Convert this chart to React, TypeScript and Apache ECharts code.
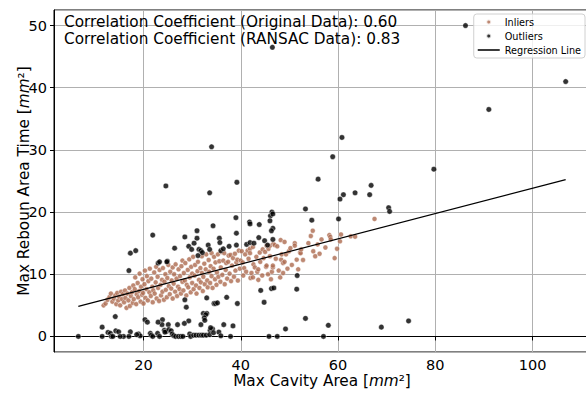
import React, { useEffect, useRef } from 'react';
import * as echarts from 'echarts';

const inliers: number[][] = [
  [11.8,5.0],[12.2,5.3],[12.6,5.9],[13.0,6.3],[13.3,6.9],[13.6,5.6],[13.9,6.1],[14.2,6.6],
  [14.4,5.2],[14.6,7.0],[14.8,5.8],[15.0,6.4],[15.2,5.0],[15.4,7.2],[15.6,6.0],[15.8,6.8],[16.0,5.5],
  [16.2,7.4],[16.3,6.2],[16.5,4.6],[16.7,6.9],[16.9,5.8],[17.1,7.8],[17.2,4.9],[17.4,6.5],[17.6,7.1],[17.8,5.4],[17.9,8.2],[18.0,6.0],
  [18.2,7.6],[18.3,9.5],[18.5,5.2],[18.6,6.8],[18.8,8.6],[18.9,6.3],[19.1,7.3],[19.2,10.1],[19.4,5.6],[19.5,8.0],[19.7,6.7],[19.8,9.2],[19.9,7.0],[20.0,5.3],
  [20.2,8.4],[20.3,10.6],[20.4,6.2],[20.6,7.6],[20.7,9.7],[20.9,5.8],[21.0,8.9],[21.2,7.1],[21.3,10.9],[21.5,6.5],[21.6,9.3],[21.8,8.0],[21.9,5.5],[22.0,7.4],
  [22.2,10.3],[22.3,6.9],[22.5,8.7],[22.6,11.2],[22.7,6.1],[22.9,9.6],[23.0,7.8],[23.2,5.7],[23.3,10.7],[23.5,8.3],[23.6,6.6],[23.8,9.1],[23.9,7.2],[24.0,11.0],
  [24.2,5.9],[24.3,8.8],[24.5,10.0],[24.6,7.5],[24.8,6.3],[24.9,9.4],[25.1,11.5],[25.2,8.1],[25.4,6.8],[25.5,10.4],[25.7,7.7],[25.8,9.0],[26.0,6.1],[26.0,11.1],
  [26.2,8.5],[26.3,10.0],[26.5,7.2],[26.6,11.6],[26.8,9.3],[26.9,6.5],[27.1,8.0],[27.2,10.8],[27.4,7.6],[27.5,9.7],[27.7,6.9],[27.8,11.3],[28.0,8.8],[28.0,12.2],
  [28.2,7.4],[28.3,10.2],[28.5,9.0],[28.6,11.8],[28.8,6.6],[28.9,8.3],[29.1,10.7],[29.2,7.9],[29.4,12.4],[29.5,9.5],[29.7,7.1],[29.8,11.2],[30.0,8.6],[30.0,10.1],
  [30.2,12.8],[30.3,7.6],[30.5,9.8],[30.6,11.5],[30.8,8.2],[30.9,6.9],[31.1,10.5],[31.2,12.0],[31.4,9.1],[31.5,7.8],[31.7,11.0],[31.8,8.7],[32.0,10.2],[32.0,12.9],
  [32.2,7.3],[32.3,9.6],[32.5,11.7],[32.6,8.4],[32.8,10.8],[32.9,13.2],[33.1,9.0],[33.2,7.9],[33.4,12.3],[33.5,10.4],[33.7,8.6],[33.8,11.3],[34.0,9.7],[34.0,13.4],
  [34.2,7.8],[34.4,10.9],[34.5,12.8],[34.7,9.2],[34.8,11.9],[35.0,8.3],[35.1,10.3],[35.3,13.2],[35.4,9.6],[35.6,12.1],[35.8,8.8],[35.9,11.1],[36.0,13.6],
  [36.2,9.9],[36.4,12.2],[36.6,13.4],[36.7,8.4],[36.9,10.7],[37.0,11.8],[37.2,9.3],[37.4,12.0],[37.5,13.0],[37.7,10.1],[37.9,13.1],[38.0,8.9],
  [38.2,11.4],[38.4,12.6],[38.6,9.6],[38.8,13.3],[38.9,10.6],[39.1,11.9],[39.3,12.35],[39.4,9.0],[39.6,13.8],[39.8,10.9],[40.0,12.2],
  [40.2,13.7],[40.4,11.9],[40.5,9.8],[40.7,11.0],[40.9,13.2],[41.1,10.4],[41.4,13.8],[41.6,12.5],[41.9,14.1],[41.9,13.4],[42.0,9.4],
  [42.2,10.2],[42.5,9.5],[42.5,14.4],[42.6,11.6],[42.9,11.1],[43.2,12.8],[43.4,10.4],[43.6,9.1],[43.6,10.8],[43.9,13.5],[44.0,12.0],
  [44.4,9.8],[44.5,14.0],[44.7,12.6],[45.0,13.6],[45.2,11.2],[45.3,14.6],[45.3,11.4],[45.6,10.0],[45.7,14.1],[46.0,14.6],[46.0,12.9],
  [46.2,9.2],[46.4,10.4],[46.6,11.1],[46.6,11.4],[46.7,14.9],[47.0,14.7],[47.2,12.5],[47.5,14.5],[47.8,10.6],[48.1,9.5],[48.2,15.5],
  [48.3,12.35],[48.4,13.2],[48.7,10.2],[48.7,11.8],[49.0,15.2],[49.0,12.0],[49.3,13.2],[49.6,10.9],[49.9,13.7],[50.2,14.2],
  [50.5,11.5],[51.1,15.0],[51.1,14.6],[51.5,12.35],[51.8,10.8],[52.2,13.5],[52.3,13.4],[52.4,14.0],[52.8,12.3],
  [53.9,15.0],[54.4,16.15],[54.8,17.0],[54.9,13.7],[55.3,12.9],[55.8,14.8],[56.6,15.6],[56.2,13.3],
  [57.4,14.3],[58.2,16.3],[58.4,16.0],[58.5,15.6],[59.3,12.6],[59.8,14.1],[60.6,16.4],[60.4,15.3],
  [62.6,16.1],[63.5,16.05],[67.5,18.9]
];

const outliers: number[][] = [
  [86.2,50.0],[46.5,46.5],[106.8,41.0],[91.0,36.5],[60.8,32.0],[58.9,28.9],[55.9,25.3],[79.7,26.9],
  [66.8,24.3],[66.5,22.8],[63.5,23.1],[61.1,22.8],[60.4,22.1],[53.3,20.5],[70.4,20.7],[70.6,20.1],[54.6,18.7],[60.1,18.9],
  [34.0,30.5],[24.6,24.2],[33.6,23.1],[39.2,24.8],[21.9,16.3],[17.3,13.4],[18.4,13.8],[28.5,16.0],[26.4,14.2],
  [31.0,17.0],[31.0,15.8],[29.3,14.5],[30.4,15.0],[31.4,14.0],[31.8,13.8],[32.1,13.5],[31.2,13.0],[34.3,17.8],
  [35.6,15.8],[35.7,15.1],[33.3,14.7],[33.6,14.0],[35.9,13.8],[36.4,14.1],[37.6,14.5],[39.1,14.7],[39.0,19.1],
  [39.1,16.6],[41.8,18.4],[41.9,18.1],[41.2,14.8],[41.9,15.1],[43.8,18.0],[43.7,15.9],[44.9,15.4],[42.7,15.0],
  [46.1,19.4],[46.4,20.0],[46.6,19.7],[46.0,18.6],[46.6,17.4],[46.3,17.0],[46.6,15.6],[45.5,14.7],[29.9,14.0],
  [24.9,12.1],[23.0,11.8],[23.3,12.0],[24.8,12.0],[17.0,10.6],
  [51.6,9.8],[44.1,7.4],[46.3,7.7],[46.8,7.8],[51.5,7.6],[44.8,5.5],[53.3,2.9],[49.2,1.2],[58.0,1.8],
  [45.8,0],[47.5,0],[57.0,0],[68.9,1.5],[74.5,2.5],
  [37.1,6.3],[39.3,5.3],[34.5,5.3],[34.8,5.3],[35.2,5.4],[33.0,6.2],[28.5,5.9],[28.8,4.7],[32.3,3.7],[33.0,3.7],
  [32.8,3.5],[32.5,3.0],[32.6,2.6],[31.8,1.9],[29.3,2.5],[28.4,2.1],[27.0,1.9],[25.1,1.9],[23.9,2.7],[23.8,1.9],
  [23.0,2.3],[24.3,1.0],[24.7,0.8],[25.2,1.1],[24.4,0.7],[25.7,0.9],[25.9,0.4],[26.2,0.15],[26.6,0],[27.2,0],
  [27.7,0],[28.1,0],[29.5,0.4],[29.7,0],[30.3,0.2],[30.8,0.2],[31.4,0.2],[31.9,0.2],[32.3,0.2],[32.9,0.2],
  [33.7,1.0],[34.2,1.2],[33.8,1.4],[33.6,0.3],[34.4,0.6],[35.5,0.7],[35.9,0.1],[36.5,1.9],[38.4,1.7],[37.9,0],
  [14.2,3.2],[11.5,1.5],[12.7,0.65],[13.2,0.5],[13.4,0],[14.3,0.9],[14.9,0.75],[15.9,0],[17.3,0.75],[17.0,0],
  [19.0,0.4],[19.3,0.1],[20.3,2.7],[20.8,2.3],[21.4,0.5],[21.6,0.2],[22.9,0.5],[23.3,0],[21.9,0],[6.6,0],
  [11.5,0],[13.7,0],[15.2,0],[18.6,0.3]
];

const regressionX = [6.6, 106.8];
const regressionY = [4.83, 25.22];

const annotationLines = [
  'Correlation Coefficient (Original Data): 0.60',
  'Correlation Coefficient (RANSAC Data): 0.83',
];

const seriesNames = ['Inliers', 'Outliers', 'Regression Line'];
const xAxisTitle = 'Max Cavity Area [{i|mm}²]';
const yAxisTitle = 'Max Reboun Area Time [{i|mm}²]';

export default function App() {
  const ref = useRef<HTMLDivElement>(null);
  useEffect(() => {
    document.body.style.margin = '0';
    const chart = echarts.init(ref.current!, null, { renderer: 'svg' });
    const font = 'DejaVu Sans';
    const nameStyle = {
      fontSize: 15.3,
      color: '#000',
      fontFamily: font,
      rich: { i: { fontSize: 15.3, fontStyle: 'italic', fontFamily: font, color: '#000' } },
    };
    chart.setOption({
      animation: false,
      backgroundColor: '#fff',
      textStyle: { fontFamily: font },
      grid: {
        left: 54, top: 10, width: 536, height: 342,
        outerBoundsMode: 'none', containLabel: false,
        show: true, borderColor: '#000', borderWidth: 1, backgroundColor: 'transparent',
      },
      xAxis: {
        type: 'value', min: 1.6, max: 111.8, splitNumber: 5,
        name: xAxisTitle, nameLocation: 'middle', nameGap: 21, nameMoveOverlap: false, nameTextStyle: nameStyle,
        axisLine: { show: true, lineStyle: { color: '#000', width: 1 } },
        axisTick: { show: true, length: 4, lineStyle: { color: '#000' } },
        axisLabel: { showMinLabel: false, showMaxLabel: false, fontSize: 14.5, color: '#000', margin: 5, fontFamily: font },
        splitLine: { show: true, lineStyle: { color: '#b0b0b0', width: 1 } },
      },
      yAxis: {
        type: 'value', min: -2.5, max: 52.5, splitNumber: 5,
        name: yAxisTitle, nameLocation: 'middle', nameGap: 23, nameMoveOverlap: false, nameTextStyle: nameStyle,
        axisLine: { show: true, lineStyle: { color: '#000', width: 1 } },
        axisTick: { show: true, length: 4, lineStyle: { color: '#000' } },
        axisLabel: { showMinLabel: false, showMaxLabel: false, fontSize: 14.5, color: '#000', margin: 7, fontFamily: font },
        splitLine: { show: true, lineStyle: { color: '#b0b0b0', width: 1 } },
      },
      legend: {
        right: 1, top: 14, orient: 'vertical',
        backgroundColor: 'rgba(255,255,255,0.8)', borderColor: '#d0d0d0', borderWidth: 1, borderRadius: 3,
        padding: [2, 4, 2, 4], itemWidth: 22, itemHeight: 5, itemGap: 2,
        textStyle: { fontSize: 9.7, fontFamily: font, color: '#000', lineHeight: 12 },
        data: [
          { name: seriesNames[0], icon: 'circle' },
          { name: seriesNames[1], icon: 'circle' },
          { name: seriesNames[2], icon: 'path://M0 0H40V2.8H0Z', itemStyle: { color: '#000' } },
        ],
      },
      graphic: annotationLines.map((t, i) => ({
        type: 'text', x: 64, y: 22 + i * 17, z: 10,
        style: { text: t, fontSize: 15.3, fontFamily: font, fill: '#000', align: 'left', verticalAlign: 'middle' },
      })),
      series: [
        {
          name: seriesNames[0], type: 'scatter', data: inliers, symbol: 'circle', symbolSize: 5,
          itemStyle: { color: '#ad6a4f', borderColor: '#fff', borderWidth: 0.5 }, z: 2,
        },
        {
          name: seriesNames[1], type: 'scatter', data: outliers, symbol: 'circle', symbolSize: 5.5,
          itemStyle: { color: '#000', borderColor: '#fff', borderWidth: 0.5 }, z: 3,
        },
        {
          name: seriesNames[2], type: 'line', data: regressionX.map((x, i) => [x, regressionY[i]]),
          symbol: 'none', lineStyle: { color: '#000', width: 1.2 }, itemStyle: { color: '#000' }, z: 4,
        },
      ],
    });
    return () => chart.dispose();
  }, []);
  return <div ref={ref} style={{ width: 586, height: 393 }} />;
}
